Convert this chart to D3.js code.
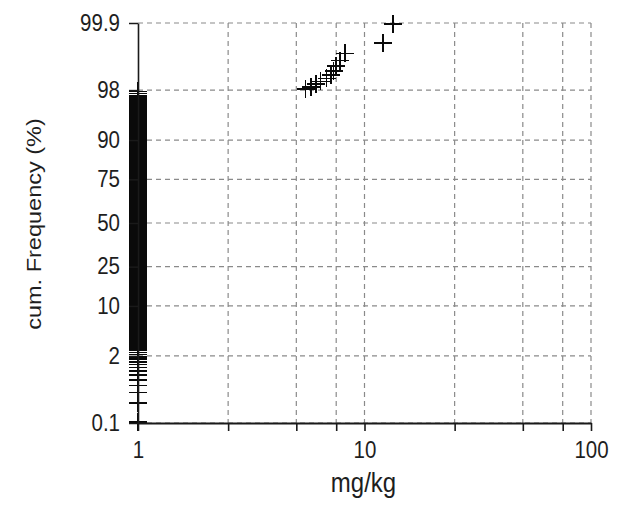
<!DOCTYPE html>
<html>
<head>
<meta charset="utf-8">
<script src="https://cdn.jsdelivr.net/npm/d3@7"></script>
<style>
  html, body { margin: 0; padding: 0; background: #fff; }
  svg { display: block; }
</style>
</head>
<body>
<svg id="chart" width="619" height="505"></svg>
<script>
// ---- data ----
// distinct measured values (mg/kg) and how many samples had each value
const mgkgValues = [1, 5.5, 5.8, 6.1, 6.4, 6.8, 7.1, 7.3, 7.5, 7.8, 8.2, 12.1, 13.4];
const mgkgCounts = [588, 1, 1, 1, 1, 1, 1, 1, 1, 1, 1, 1, 1];
// axis ticks
const yTickPercents = [0.1, 2, 10, 25, 50, 75, 90, 98, 99.9];
const xGridValues = [1, 2.5, 5, 7.5, 10, 25, 50, 75, 100];
const xLabelValues = [1, 10, 100];
const xTitle = "mg/kg";
const yTitle = "cum. Frequency (%)";

// inverse standard normal CDF (Acklam)
function qnorm(p) {
  const a = [-3.969683028665376e+01, 2.209460984245205e+02, -2.759285104469687e+02, 1.383577518672690e+02, -3.066479806614716e+01, 2.506628277459239e+00];
  const b = [-5.447609879822406e+01, 1.615858368580409e+02, -1.556989798598866e+02, 6.680131188771972e+01, -1.328068155288572e+01];
  const c = [-7.784894002430293e-03, -3.223964580411365e-01, -2.400758277161838e+00, -2.549732539343734e+00, 4.374664141464968e+00, 2.938163982698783e+00];
  const d = [7.784695709041462e-03, 3.224671290700398e-01, 2.445134137142996e+00, 3.754408661907416e+00];
  const pl = 0.02425, ph = 1 - pl;
  let q, r;
  if (p < pl) {
    q = Math.sqrt(-2 * Math.log(p));
    return (((((c[0]*q+c[1])*q+c[2])*q+c[3])*q+c[4])*q+c[5]) / ((((d[0]*q+d[1])*q+d[2])*q+d[3])*q+1);
  }
  if (p <= ph) {
    q = p - 0.5; r = q * q;
    return (((((a[0]*r+a[1])*r+a[2])*r+a[3])*r+a[4])*r+a[5])*q / (((((b[0]*r+b[1])*r+b[2])*r+b[3])*r+b[4])*r+1);
  }
  q = Math.sqrt(-2 * Math.log(1 - p));
  return -(((((c[0]*q+c[1])*q+c[2])*q+c[3])*q+c[4])*q+c[5]) / ((((d[0]*q+d[1])*q+d[2])*q+d[3])*q+1);
}

// expand the frequency table into the sorted sample and compute plotting positions (Blom)
const sample = [];
mgkgValues.forEach((v, i) => { for (let k = 0; k < mgkgCounts[i]; k++) sample.push(v); });
sample.sort((a, b) => a - b);
const n = sample.length;
const points = sample.map((v, i) => ({ v, z: qnorm((i + 1 - 0.375) / (n + 0.25)) }));

// ---- layout ----
const svg = d3.select("#chart");
const mLeft = 138, mRight = 591, mTop = 23, mBottom = 423;
const x = d3.scaleLog().domain([1, 100]).range([mLeft, mRight]);
const y = d3.scaleLinear().domain([qnorm(0.001), qnorm(0.999)]).range([mBottom, mTop]);

const gridColor = "#8a8a8a";
const font = "'Liberation Sans', Arial, Helvetica, sans-serif";

// grid
const grid = svg.append("g");
grid.selectAll("line.h").data(yTickPercents).join("line")
  .attr("x1", mLeft).attr("x2", mRight)
  .attr("y1", p => y(qnorm(p / 100))).attr("y2", p => y(qnorm(p / 100)))
  .attr("stroke", gridColor).attr("stroke-width", 1.2).attr("stroke-dasharray", "5,4");
grid.selectAll("line.v").data(xGridValues.slice(1)).join("line")
  .attr("x1", d => x(d)).attr("x2", d => x(d))
  .attr("y1", mTop).attr("y2", mBottom)
  .attr("stroke", gridColor).attr("stroke-width", 1.2).attr("stroke-dasharray", "5,4");

// points (crosses)
const arm = 9;
const pts = svg.append("g").attr("stroke", "#0a0a0a").attr("stroke-width", 1.6)
  .attr("shape-rendering", "crispEdges");
pts.selectAll("path").data(points).join("path")
  .attr("d", d => {
    const cx = x(d.v), cy = y(d.z);
    return `M${cx - arm},${cy}H${cx + arm}M${cx},${cy - arm}V${cy + arm}`;
  });

// y axis
const yAxis = d3.axisLeft(y)
  .tickValues(yTickPercents.map(p => qnorm(p / 100)))
  .tickFormat((d, i) => String(yTickPercents[i]))
  .tickSizeInner(9).tickSizeOuter(0).tickPadding(9);
const gy = svg.append("g").attr("transform", `translate(${mLeft},0)`).call(yAxis);
gy.select(".domain").attr("stroke", "#1a1a1a").attr("stroke-width", 1.6);
gy.selectAll(".tick line").attr("stroke", "#1a1a1a").attr("stroke-width", 1.5);
gy.selectAll(".tick text")
  .attr("font-family", font).attr("font-size", 20.5).attr("fill", "#1e1e1e")
  .attr("transform", "scale(1,1.15)").attr("dy", "0.30em");

// x axis
const xAxis = d3.axisBottom(x)
  .tickValues(xGridValues)
  .tickFormat(d => xLabelValues.includes(d) ? String(d) : "")
  .tickSizeInner(8).tickSizeOuter(0).tickPadding(8);
const gx = svg.append("g").attr("transform", `translate(0,${mBottom})`).call(xAxis);
gx.select(".domain").attr("stroke", "#1a1a1a").attr("stroke-width", 2.2);
gx.selectAll(".tick line").attr("stroke", "#1a1a1a").attr("stroke-width", 1.6);
gx.selectAll(".tick text")
  .attr("font-family", font).attr("font-size", 20.5).attr("fill", "#1e1e1e")
  .attr("transform", "scale(1,1.15)");

// titles
svg.append("text")
  .attr("transform", `translate(${(mLeft + mRight) / 2 - 1},492) scale(1,1.15)`)
  .attr("text-anchor", "middle").attr("font-family", font).attr("font-size", 24).attr("fill", "#1e1e1e")
  .text(xTitle);
svg.append("text")
  .attr("transform", `translate(41,${(mTop + mBottom) / 2 + 1}) rotate(-90) scale(1.12,1)`)
  .attr("text-anchor", "middle").attr("font-family", font).attr("font-size", 21).attr("fill", "#1e1e1e")
  .text(yTitle);
</script>
</body>
</html>
